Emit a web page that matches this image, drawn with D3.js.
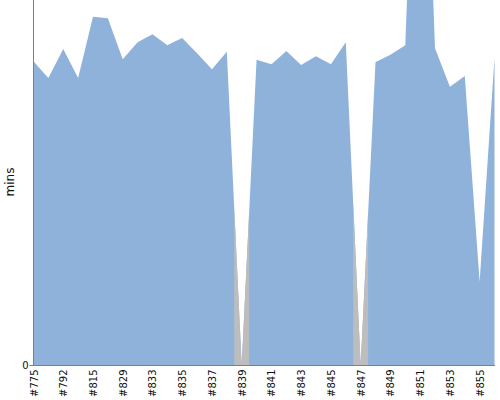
<!DOCTYPE html>
<html><head><meta charset="utf-8">
<script src="https://cdn.jsdelivr.net/npm/d3@7"></script>
<style>body{margin:0;background:#fff}svg{display:block}</style>
</head><body>
<svg id="c" width="500" height="400"></svg>
<script>
const builds = ["#775","#784","#792","#803","#815","#822","#829","#831","#833","#834","#835","#836","#837","#838","#839","#840",
  "#841","#842","#843","#844","#845","#846","#847","#848","#849","#850","#851","#852","#853","#854","#855","#856"];
const durations = [41.6,39.3,43.3,39.3,47.7,47.5,41.9,44.2,45.3,43.8,44.8,42.7,40.5,42.9,0,41.8,
  41.2,43.0,41.1,42.3,41.2,44.2,0,41.5,42.5,43.8,97.9,43.4,38.1,39.6,11.4,42.1];
const results = ["S","S","S","S","S","S","S","S","S","S","S","S","S","S","A","S",
  "S","S","S","S","S","S","A","S","S","S","S","S","S","S","S","S"];
const tickLabels = ["#775","#792","#815","#829","#833","#835","#837","#839","#841","#843","#845","#847","#849","#851","#853","#855"];
const yTicks = [0];

(function(){
const colors = {S:"#8fb2db", A:"#bdbdbd"};
const svg = d3.select("#c");
const pL = 33, pR = 495, pT = 0, pB = 365;
const x = d3.scalePoint().domain(builds).range([pL+0.5, pR-0.5]);
const y = d3.scaleLinear().domain([0,50]).range([pB, pT]);

svg.append("clipPath").attr("id","pc").append("rect")
  .attr("x", pL).attr("y", pT).attr("width", pR-pL).attr("height", pB-pT);
const g = svg.append("g").attr("clip-path","url(#pc)");

const area = d3.area().x(d=>d.x).y0(y(0)).y1(d=>d.y);
function itemPts(i){
  const pts = [];
  const xi = x(builds[i]), yi = y(durations[i]);
  if(i>0){
    const xp = x(builds[i-1]), yp = y(durations[i-1]);
    pts.push({x:(xp+xi)/2, y:(yp+yi)/2});
  }
  pts.push({x:xi, y:yi});
  if(i<builds.length-1){
    const xn = x(builds[i+1]), yn = y(durations[i+1]);
    pts.push({x:(xn+xi)/2, y:(yn+yi)/2});
  }
  return pts;
}
const all = [];
builds.forEach((b,i)=>{ all.push(...itemPts(i)); });
g.append("path").attr("d", area(all)).attr("fill", colors.S);
builds.forEach((b,i)=>{
  if(results[i] !== "S"){
    g.append("path").attr("d", area(itemPts(i))).attr("fill", colors[results[i]]);
  }
});

const xAxis = d3.axisBottom(x).tickValues(tickLabels).tickSize(0).tickSizeOuter(0);
const xg = svg.append("g").attr("transform",`translate(0,${pB+0.5})`).call(xAxis);
xg.select(".domain").attr("stroke","#808080").attr("d",`M${pL},0H${pR}`);
xg.selectAll("text")
  .attr("font-family","DejaVu Sans").attr("font-size","10px").attr("fill","#111")
  .attr("text-anchor","end").attr("transform","rotate(-90)")
  .attr("x",-4).attr("y",0).attr("dy","0.35em");

const yAxis = d3.axisLeft(y).tickValues(yTicks).tickFormat(d3.format("d")).tickSize(4).tickSizeOuter(0);
const yg = svg.append("g").attr("transform",`translate(${pL+0.5},0)`).call(yAxis);
yg.select(".domain").attr("stroke","#808080").attr("d",`M0,${pT}V${pB}`);
yg.selectAll(".tick line").attr("stroke","#808080");
yg.selectAll("text").attr("font-family","DejaVu Sans").attr("font-size","10px").attr("fill","#111").attr("x",-5);

svg.append("text").attr("transform","translate(14,182) rotate(-90)")
  .attr("text-anchor","middle").attr("font-family","DejaVu Sans").attr("font-size","12px")
  .attr("fill","#111").text("mins");
})();
</script>
</body></html>
